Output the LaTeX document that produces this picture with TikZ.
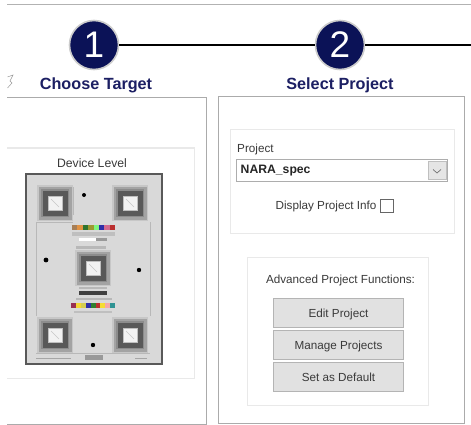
\documentclass[tikz,border=0pt]{standalone}
\usepackage{fontspec}
\setmainfont{Liberation Sans}
\definecolor{navy}{HTML}{0B1257}
\definecolor{titlec}{HTML}{1C1F63}
\definecolor{panelc}{HTML}{ABABAB}
\definecolor{groupc}{HTML}{E9E9E9}
\definecolor{btnc}{HTML}{E1E1E1}
\definecolor{btnl}{HTML}{B4B4B4}
\definecolor{txtc}{HTML}{3A3A3A}
\tikzset{
  x=1pt,y=-1pt,
  stepcircle/.style={circle,fill=navy,draw=black!20,line width=1.6pt,minimum size=49pt,inner sep=0pt,text=white,font=\fontsize{37}{37}\selectfont},
  steptitle/.style={font=\fontsize{16.2}{18}\selectfont\bfseries,text=titlec,inner sep=0pt},
  panel/.style={draw=panelc,line width=1pt},
  group/.style={draw=groupc,line width=1pt},
  uitext/.style={font=\fontsize{11.7}{13}\selectfont,text=txtc,inner sep=0pt},
  btn/.style={draw=btnl,fill=btnc,line width=1pt,minimum width=130pt,minimum height=29pt,inner sep=0pt,text height=11pt,text depth=1.4pt,font=\fontsize{11.7}{13}\selectfont,text=txtc},
  link/.style={line width=2.6pt,black},
  swatch/.style={opacity=.78},
}
\newcommand{\fiducial}[2]{%
  \fill[black!22] (#1-18,#2-18) rectangle (#1+18,#2+18);
  \fill[black!36] (#1-16.5,#2-16.5) rectangle (#1+16.5,#2+16.5);
  \fill[black!45] (#1-14,#2-14) rectangle (#1+14,#2+14);
  \fill[black!65] (#1-12.5,#2-12.5) rectangle (#1+12.5,#2+12.5);
  \fill[black!25] (#1-7.5,#2-7.5) rectangle (#1+7.5,#2+7.5);
  \fill[black!5] (#1-6.5,#2-6.5) rectangle (#1+6.5,#2+6.5);
  \draw[black!22,line width=.5pt] (#1-4,#2-4) -- (#1+4,#2+4);
}
\begin{document}
\begin{tikzpicture}
\useasboundingbox (0,0) rectangle (471,425);
\fill[white] (0,0) rectangle (471,425);
% top rule
\draw[black!30,line width=1.5pt] (7,4.5) -- (471,4.5);
% step circles and connectors
\coordinate (free) at (471,45);
\node[stepcircle] (one) at (94,45) {1};
\node[stepcircle] (two) at (340,45) {2};
\draw[link] (one) -- (two);
\draw[link] (two) -- (free);
\node[steptitle] (choose) at (96,85.5) {Choose Target};
\node[steptitle] (select) at (340,85.5) {Select Project};
% cursor fragment
\draw[black!40,line width=.5pt] (7.5,77) -- (13,75) -- (10,81) -- (12,83) -- (7.5,88);
% panels
\draw[panel] (7,98) -- (206.5,98) -- (206.5,424) -- (7,424);
\draw[panel] (218,97) rectangle (464.5,423);
% device level
\draw[group] (7,148) -- (194.5,148) -- (194.5,378) -- (7,378);
\node[uitext,font=\fontsize{12.2}{13}\selectfont] (device) at (92,163.5) {Device Level};
% target
\fill[black!15] (26,174) rectangle (162,364);
\draw[black!65,line width=1.3pt] (26,174) rectangle (162,364);
\draw[black!28,line width=.5pt] (36,222) -- (36,316) (150,222) -- (150,316) (36,222) -- (73,222) (73,187) -- (73,215) (116,187) -- (116,215) (36,353) -- (150,353);
\fiducial{55}{203}
\fiducial{130}{203}
\fiducial{93}{268}
\fiducial{55}{335}
\fiducial{130}{335}
\fill[black] (84,195) circle (2);
\fill[black] (46,260) circle (2.4);
\fill[black] (139,270) circle (2.2);
\fill[black] (93,345) circle (2.2);
% top colour strip
\foreach \i/\c in {0/brown!80!black,1/orange!60!brown,2/green!35!black,3/olive,4/green!60!white,5/blue!60!black,6/purple!70,7/red!70!black}{
  \fill[\c,swatch] (72+\i*5.4,224.5) rectangle (77.4+\i*5.4,229.5);}
\fill[black!25] (72,232) rectangle (115,236);
\fill[white] (79,238) rectangle (96,241);
\fill[black!40] (96,238) rectangle (107,241);
\fill[black!28] (76,246) rectangle (106,249);
% bottom strips
\fill[black!28] (79,287) rectangle (107,289);
\fill[black!75] (79,290.5) rectangle (107,295);
\fill[black!28] (76,298) rectangle (112,300);
\foreach \i/\c in {0/purple!70!black,1/yellow!75!orange,2/yellow!80!black,3/blue!60!black,4/green!40!black,5/red!70!black,6/yellow!90!red,7/pink!80!red,8/teal}{
  \fill[\c,swatch] (71+\i*4.9,303) rectangle (75.9+\i*4.9,308);}
\fill[black!25] (74,311) rectangle (112,313);
\fill[black!35] (36,357.5) rectangle (71,359);
\fill[black!40] (85,355) rectangle (103,360);
\fill[black!35] (135,357.5) rectangle (147,359);
% project group
\draw[group] (230,130) rectangle (454,233.5);
\node[uitext,anchor=west] (plabel) at (237,149) {Project};
\draw[black!32,fill=white,line width=1pt] (236,159.5) rectangle (447.5,181);
\node[anchor=west,inner sep=0pt,font=\fontsize{12.2}{15}\selectfont\bfseries,text=black!85] (spec) at (240.5,171) {NARA\_spec};
\draw[black!25,fill=black!10,line width=.8pt] (428,161.5) rectangle (446,179);
\draw[black!55,line width=.7pt] (433,169.5) -- (437,173) -- (441,169.5);
\node[uitext] (info) at (326,206) {Display Project Info};
\draw[black!60,fill=white,line width=.9pt] (380,199) rectangle (393,212);
% advanced group
\draw[group] (247.5,257) rectangle (428,405);
\node[uitext] (adv) at (340.5,280) {Advanced Project Functions:};
\node[btn] (edit) at (338.5,312.5) {Edit Project};
\node[btn] (manage) at (338.5,344.5) {Manage Projects};
\node[btn] (default) at (338.5,376.5) {Set as Default};
\end{tikzpicture}
\end{document}
